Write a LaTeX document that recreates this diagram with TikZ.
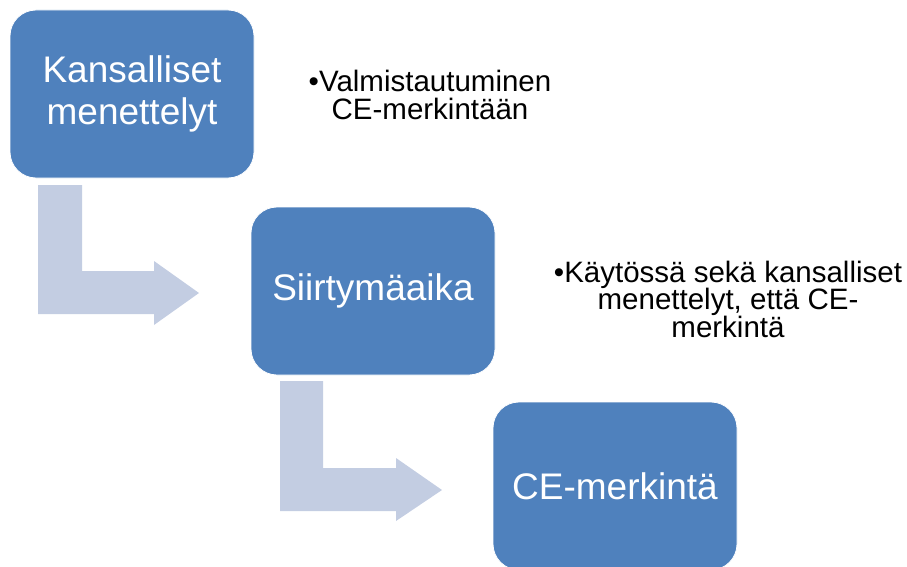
\documentclass[tikz,border=0pt]{standalone}
\usepackage{fontspec}
\setmainfont{Liberation Sans}
\definecolor{boxblue}{RGB}{79,129,189}
\definecolor{arrowgray}{RGB}{195,205,226}
\tikzset{
  stagebox/.style={fill=boxblue, draw=white, line width=0.8pt, rounded corners=26pt,
    minimum width=244pt, minimum height=168pt, inner sep=0pt, text=white, align=center,
    font=\fontsize{37}{42}\selectfont},
  sidenote/.style={align=center, text=black, inner sep=0pt, font=\fontsize{29.5}{27.5}\selectfont},
  blockarrow/.style={fill=arrowgray, draw=none}
}
\begin{document}
\begin{tikzpicture}[x=1pt,y=-1pt]
\useasboundingbox (0,0) rectangle (907,567);
\begin{scope}
\clip (0,0) rectangle (907,567);
% block arrows
\fill[blockarrow] (38,185) -- (82,185) -- (82,271) -- (154,271) -- (154,261) -- (199,293)
  -- (154,325) -- (154,314) -- (38,314) -- cycle;
\fill[blockarrow] (280,381) -- (323,381) -- (323,468) -- (396,468) -- (396,458) -- (442,490)
  -- (396,521) -- (396,511) -- (280,511) -- cycle;
% boxes
\node[stagebox] (b1) at (132,94) {Kansalliset\\menettelyt};
\node[stagebox] (b2) at (373,291) {Siirtymäaika};
\node[stagebox] (b3) at (615,486) {CE-merkintä};
\end{scope}
% notes
\node[sidenote] (n1) at (430,95) {•Valmistautuminen\\CE-merkintään};
\node[sidenote] (n2) at (728,299) {•Käytössä sekä kansalliset\\menettelyt, että CE-\\merkintä};
\end{tikzpicture}
\end{document}
